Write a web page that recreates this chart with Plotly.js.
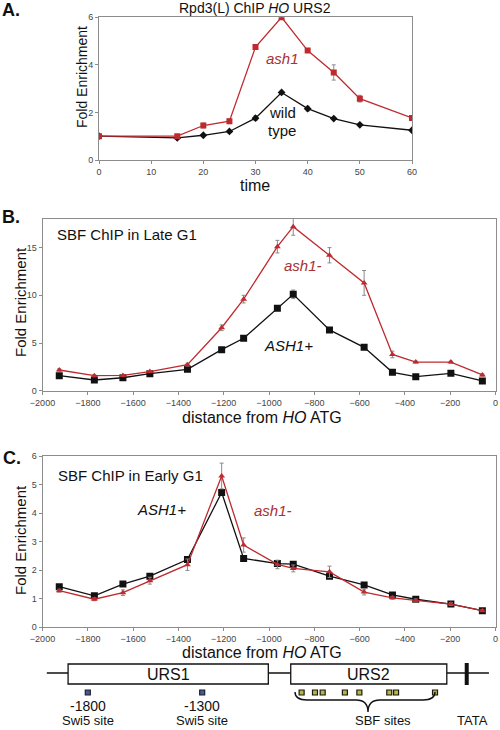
<!DOCTYPE html>
<html><head><meta charset="utf-8">
<script src="https://cdn.plot.ly/plotly-3.0.1.min.js"></script>
<style>html,body{margin:0;padding:0;background:#fff}#chart{width:500px;height:730px}</style>
</head><body><div id="chart"></div>
<script>
// ---- Panel A: Rpd3(L) ChIP at HO URS2 over time ----
const timeA = [0, 15, 20, 25, 30, 35, 40, 45, 50, 60];
const ash1A = [1.0, 1.0, 1.45, 1.63, 4.75, 6.0, 4.6, 3.68, 2.58, 1.77];
const ash1AErr = [0.03, 0.05, 0.1, 0.1, 0.1, 0.05, 0.05, 0.32, 0.14, 0.05];
const wtA = [1.0, 0.93, 1.04, 1.2, 1.76, 2.84, 2.16, 1.74, 1.48, 1.25];
const wtAErr = [0.02, 0.02, 0.03, 0.04, 0.1, 0.05, 0.1, 0.04, 0.04, 0.03];

// ---- Panels B and C: distance from HO ATG ----
const distance = [-1926, -1771, -1645, -1526, -1360, -1209, -1112, -963, -893, -733, -580, -455, -352, -197, -58];
const lateASH1 = [1.57, 1.12, 1.36, 1.78, 2.24, 4.3, 5.5, 8.65, 10.1, 6.37, 4.55, 1.93, 1.47, 1.82, 1.02];
const lateASH1Err = [0.1, 0.05, 0.05, 0.08, 0.1, 0.1, 0.1, 0.25, 0.45, 0.1, 0.1, 0.1, 0.08, 0.08, 0.08];
const lateAsh1m = [2.17, 1.57, 1.6, 2.0, 2.73, 6.6, 9.6, 15.1, 17.2, 14.2, 11.3, 3.8, 3.0, 3.0, 1.65];
const lateAsh1mErr = [0.12, 0.1, 0.1, 0.1, 0.15, 0.3, 0.4, 0.66, 0.9, 0.8, 1.3, 0.35, 0.1, 0.1, 0.12];
const earlyASH1 = [1.42, 1.1, 1.51, 1.79, 2.37, 4.72, 2.41, 2.23, 2.21, 1.79, 1.48, 1.13, 0.98, 0.81, 0.58];
const earlyASH1Err = [0.05, 0.05, 0.05, 0.05, 0.06, 0.1, 0.1, 0.08, 0.08, 0.06, 0.05, 0.05, 0.04, 0.04, 0.03];
const earlyAsh1m = [1.28, 0.98, 1.21, 1.63, 2.19, 5.3, 2.88, 2.2, 2.06, 1.94, 1.23, 1.03, 0.94, 0.81, 0.58];
const earlyAsh1mErr = [0.05, 0.05, 0.1, 0.12, 0.2, 0.45, 0.25, 0.15, 0.12, 0.2, 0.1, 0.05, 0.05, 0.05, 0.03];

// ---- Promoter map ----
const swi5Sites = [-1800, -1295];
const swi5Labels = ['-1800', '-1300'];
const sbfSites = [-856, -797, -763, -665, -601, -469, -439, -267];
const urs1 = [-1887, -1003];
const urs2 = [-904, -215];
const tataPos = -127;
const mapSpan = [-1981, -29];

const RED = '#bf2a2f';
const RED_TXT = '#a83236';
const FONT = 'Liberation Sans, Arial, sans-serif';
const W = 500, H = 730;
const px = x => x / W;
const py = y => 1 - y / H;

function ebar(arr) {
  return {type: 'data', array: arr, visible: true, color: '#8a8a8a', thickness: 1, width: 2};
}
function line(xs, ys, err, color, sym, size, xa, ya) {
  return {x: xs, y: ys, error_y: ebar(err), xaxis: xa, yaxis: ya, type: 'scatter', mode: 'lines+markers',
    line: {color: color, width: 1.3}, marker: {symbol: sym, size: size, color: color}, hoverinfo: 'skip', showlegend: false};
}

const traces = [
  line(timeA, wtA, wtAErr, '#111', 'diamond', 6, 'x', 'y'),
  line(timeA, ash1A, ash1AErr, RED, 'square', 6, 'x', 'y'),
  line(distance, lateASH1, lateASH1Err, '#111', 'square', 7, 'x2', 'y2'),
  line(distance, lateAsh1m, lateAsh1mErr, RED, 'triangle-up', 6, 'x2', 'y2'),
  line(distance, earlyASH1, earlyASH1Err, '#111', 'square', 7, 'x3', 'y3'),
  line(distance, earlyAsh1m, earlyAsh1mErr, RED, 'triangle-up', 6, 'x3', 'y3'),
  {x: swi5Sites, y: swi5Sites.map(() => 0), xaxis: 'x4', yaxis: 'y4', type: 'scatter', mode: 'markers',
   marker: {symbol: 'square', size: 5, color: '#4a5a8a', line: {color: '#1a1f33', width: 1.2}}, hoverinfo: 'skip', showlegend: false},
  {x: sbfSites, y: sbfSites.map(() => 0), xaxis: 'x4', yaxis: 'y4', type: 'scatter', mode: 'markers',
   marker: {symbol: 'square', size: 5, color: '#b8b24a', line: {color: '#1a1a10', width: 1.2}}, hoverinfo: 'skip', showlegend: false}
];

const tickFont = {family: FONT, size: 9, color: '#444'};
function axisBase(extra) {
  return Object.assign({showgrid: false, zeroline: false, showline: true, linecolor: '#8c8c8c', linewidth: 1,
    mirror: true, ticks: 'outside', ticklen: 3, tickcolor: '#8c8c8c', tickfont: tickFont, fixedrange: true}, extra);
}

const layout = {
  width: W, height: H, margin: {l: 0, r: 0, t: 0, b: 0}, paper_bgcolor: '#fff', plot_bgcolor: '#fff',
  font: {family: FONT},
  xaxis: axisBase({domain: [px(99), px(412)], range: [0, 60], tickvals: [0, 10, 20, 30, 40, 50, 60], anchor: 'y'}),
  yaxis: axisBase({domain: [py(160), py(17.3)], range: [0, 6], tickvals: [0, 2, 4, 6], anchor: 'x'}),
  xaxis2: axisBase({domain: [px(42.5), px(495.5)], range: [-2000, 0], dtick: 200, anchor: 'y2'}),
  yaxis2: axisBase({domain: [py(390.7), py(219)], range: [0, 18], tickvals: [0, 5, 10, 15], anchor: 'x2'}),
  xaxis3: axisBase({domain: [px(42.5), px(495.5)], range: [-2000, 0], dtick: 200, anchor: 'y3'}),
  yaxis3: axisBase({domain: [py(627.2), py(456)], range: [0, 6], dtick: 1, anchor: 'x3'}),
  xaxis4: {domain: [px(42.5), px(495.5)], range: [-2000, 0], visible: false, anchor: 'y4', fixedrange: true},
  yaxis4: {domain: [py(700), py(685)], range: [-1, 1], visible: false, anchor: 'x4', fixedrange: true},
  annotations: [],
  shapes: []
};

function ann(text, x, y, size, opts) {
  layout.annotations.push(Object.assign({text: text, xref: 'paper', yref: 'paper', x: px(x), y: py(y),
    xanchor: 'center', yanchor: 'middle', showarrow: false, borderpad: 0, font: {family: FONT, size: size, color: '#111'}}, opts || {}));
}
function annMap(text, xData, y, size) {
  layout.annotations.push({text: text, xref: 'x4', yref: 'paper', x: xData, y: py(y), xanchor: 'center', yanchor: 'middle',
    showarrow: false, borderpad: 0, font: {family: FONT, size: size, color: '#111'}});
}

// panel labels
ann('<b>A.</b>', 11, 10, 18);
ann('<b>B.</b>', 11, 217, 18);
ann('<b>C.</b>', 12, 458, 18);
// A texts
ann('Rpd3(L) ChIP <i>HO</i> URS2', 255, 8, 14);
ann('time', 255, 185, 16);
ann('Fold Enrichment', 82, 77, 14, {textangle: -90});
ann('<i>ash1</i>', 282, 58, 15, {font: {family: FONT, size: 15, color: RED_TXT}});
ann('wild', 282, 113, 15);
ann('type', 282, 130, 15);
// B texts
ann('SBF ChIP in Late G1', 127, 235, 15);
ann('Fold Enrichment', 20, 302, 15, {textangle: -90});
ann('distance from <i>HO</i> ATG', 262, 417, 16);
ann('<i>ash1-</i>', 303, 265, 15, {font: {family: FONT, size: 15, color: RED_TXT}});
ann('<i>ASH1+</i>', 288, 345, 15);
// C texts
ann('SBF ChIP in Early G1', 130, 475, 15);
ann('Fold Enrichment', 20, 540, 15, {textangle: -90});
ann('distance from <i>HO</i> ATG', 262, 652, 16);
ann('<i>ASH1+</i>', 161, 509, 15);
ann('<i>ash1-</i>', 273, 510, 15, {font: {family: FONT, size: 15, color: RED_TXT}});

// promoter map
const yLine = py(673);
layout.shapes.push({type: 'line', xref: 'x4', yref: 'paper', x0: mapSpan[0], x1: mapSpan[1], y0: yLine, y1: yLine, line: {color: '#111', width: 1.3}, layer: 'below'});
[urs1, urs2].forEach(r => layout.shapes.push({type: 'rect', xref: 'x4', yref: 'paper', x0: r[0], x1: r[1], y0: py(684), y1: py(664), fillcolor: '#fff', line: {color: '#111', width: 1.3}}));
layout.shapes.push({type: 'line', xref: 'x4', yref: 'paper', x0: tataPos, x1: tataPos, y0: py(685), y1: py(663), line: {color: '#111', width: 4}});
annMap('URS1', (urs1[0] + urs1[1]) / 2, 674, 16);
annMap('URS2', (urs2[0] + urs2[1]) / 2, 674, 16);
swi5Sites.forEach((s, i) => {
  annMap(swi5Labels[i], s, 706, 14);
  annMap('Swi5 site', s, 720, 13);
});
ann('SBF sites', 383, 720, 13);
annMap('TATA', tataPos + 25, 720, 13);
// brace under SBF sites
const P = (x, y) => px(x).toFixed(4) + ',' + py(y).toFixed(4);
layout.shapes.push({type: 'path', xref: 'paper', yref: 'paper', line: {color: '#111', width: 1.4},
  path: 'M' + P(295, 692) + ' Q' + P(295, 700) + ' ' + P(307, 700) + ' L' + P(356, 700) + ' Q' + P(368, 700) + ' ' + P(368, 712) +
        ' Q' + P(368, 700) + ' ' + P(380, 700) + ' L' + P(423, 700) + ' Q' + P(435, 700) + ' ' + P(435, 692)});

Plotly.newPlot('chart', traces, layout, {staticPlot: true, displayModeBar: false});
</script></body></html>
